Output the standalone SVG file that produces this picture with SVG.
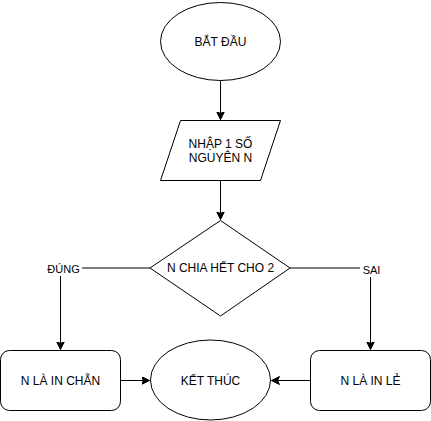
<svg xmlns="http://www.w3.org/2000/svg" width="431" height="421" viewBox="0 0 431 421">
<style>
.shape{fill:#fff;stroke:#000;stroke-width:1}
.edge{fill:none;stroke:#000;stroke-width:1}
.t{font-family:"Liberation Sans",Arial,Helvetica,sans-serif;font-size:12px;fill:#000;text-anchor:middle}
.lbl{font-family:"Liberation Sans",Arial,Helvetica,sans-serif;font-size:11px;fill:#000;text-anchor:middle}
</style>
<defs>
<marker id="arr" markerUnits="userSpaceOnUse" markerWidth="10" markerHeight="10" refX="8" refY="4" orient="auto">
<path d="M0,0 L8,4 L0,8 L2,4 Z" fill="#000" stroke="#000" stroke-width="1"/>
</marker>
</defs>
<rect width="431" height="421" fill="#fff"/>
<g id="connectors">
<path class="edge" d="M220.5 80.5 V119.5" marker-end="url(#arr)"/>
<path class="edge" d="M220.5 180.5 V219.5" marker-end="url(#arr)"/>
<path class="edge" d="M150 268 H60.5 V349.5" marker-end="url(#arr)"/>
<path class="edge" d="M290 268 H370.5 V349.5" marker-end="url(#arr)"/>
<path class="edge" d="M120.5 380.5 H149.5" marker-end="url(#arr)"/>
<path class="edge" d="M310.5 380.5 H271.5" marker-end="url(#arr)"/>
<rect x="44" y="261" width="38" height="15" fill="#fff"/>
<text class="lbl" x="63.5" y="272.5">ĐÚNG</text>
<rect x="360" y="262" width="23" height="15" fill="#fff"/>
<text class="lbl" x="371.5" y="274">SAI</text>
</g>
<g id="start">
<ellipse class="shape" cx="220.5" cy="41.5" rx="60" ry="39"/>
<text class="t" x="220.5" y="45.5">BẮT ĐẦU</text>
</g>
<g id="input">
<polygon class="shape" points="180.5,120.5 280.5,120.5 260.5,180.5 160.5,180.5"/>
<text class="t" x="220.5" y="147.5">NHẬP 1 SỐ</text>
<text class="t" x="220.5" y="161.5">NGUYÊN N</text>
</g>
<g id="decision">
<polygon class="shape" points="220.5,220.5 290,268 220.5,316 150,268"/>
<text class="t" x="220.5" y="272">N CHIA HẾT CHO 2</text>
</g>
<g id="even">
<rect class="shape" x="0.5" y="350.5" width="120" height="60" rx="9" ry="9"/>
<text class="t" x="60.5" y="384.5">N LÀ IN CHẴN</text>
</g>
<g id="odd">
<rect class="shape" x="310.5" y="350.5" width="120" height="60" rx="9" ry="9"/>
<text class="t" x="370.5" y="384.5">N LÀ IN LẺ</text>
</g>
<g id="end">
<ellipse class="shape" cx="210.5" cy="380" rx="60" ry="40"/>
<text class="t" x="210.5" y="384.5">KẾT THÚC</text>
</g>
</svg>
